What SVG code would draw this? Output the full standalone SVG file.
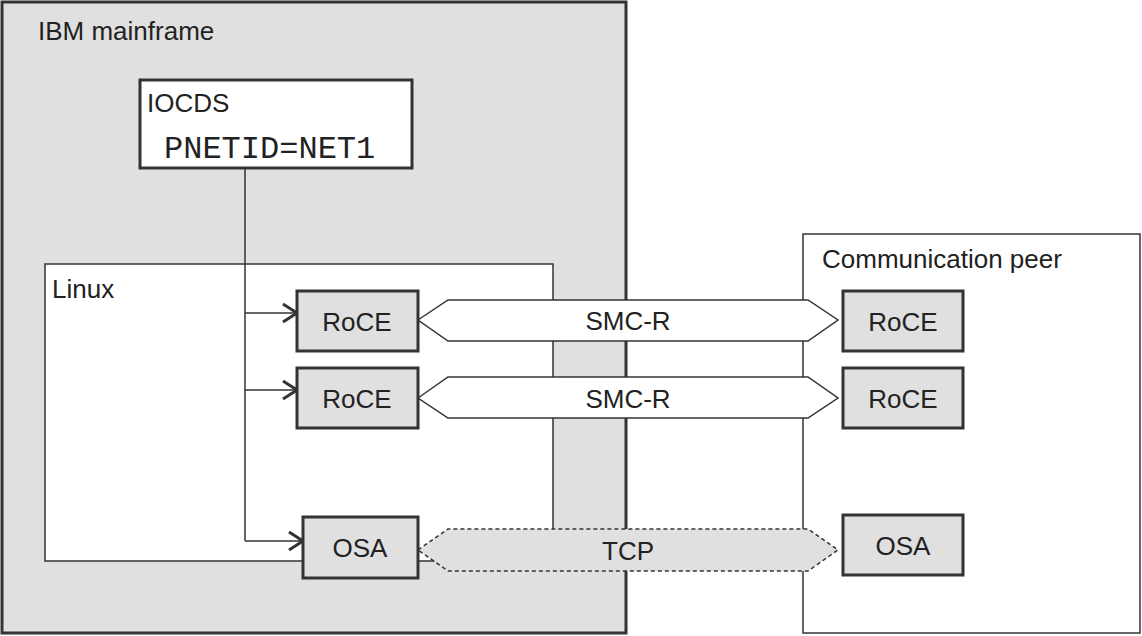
<svg xmlns="http://www.w3.org/2000/svg" width="1142" height="636" viewBox="0 0 1142 636">
<defs>
<style>
.t{font-family:"Liberation Sans",Arial,sans-serif;font-size:26px;fill:#222}
.dev{fill:#e0e0e0;stroke:#333;stroke-width:3}
.ln{fill:none;stroke:#333;stroke-width:1.5}
</style>
<marker id="ar" viewBox="0 0 18 22" refX="16" refY="11" markerWidth="18" markerHeight="22" markerUnits="userSpaceOnUse" orient="auto"><path d="M2,2 L16,11 L2,20" fill="none" stroke="#333" stroke-width="3"/></marker>
</defs>
<g id="mainframe"><rect x="2" y="2" width="624" height="631" fill="#e0e0e0" stroke="#333" stroke-width="3"/><text class="t" x="38" y="40">IBM mainframe</text></g>
<g id="peer"><rect x="803" y="234" width="337" height="399" fill="#fff" stroke="#333" stroke-width="1.5"/><text class="t" x="822" y="268">Communication peer</text></g>
<g id="linux"><rect x="45" y="264" width="508" height="297" fill="#fff" stroke="#333" stroke-width="1.5"/><text class="t" x="52" y="298">Linux</text></g>
<g id="iocds"><rect x="140" y="80" width="272" height="88" fill="#fff" stroke="#333" stroke-width="3"/><text class="t" x="147" y="112">IOCDS</text><text x="164" y="158" style="font-family:'Liberation Mono',monospace;font-size:32px;fill:#222">PNETID=NET1</text></g>
<g id="connectors">
<path class="ln" d="M245,168 V541"/>
<path class="ln" d="M245,313 H297" marker-end="url(#ar)"/>
<path class="ln" d="M245,390 H297" marker-end="url(#ar)"/>
<path class="ln" d="M245,541 H303" marker-end="url(#ar)"/>
<path d="M418,320 L448,300 H808 L838,320 L808,341 H448 Z" fill="#fff" stroke="#333" stroke-width="1.5"/>
<text class="t" x="628" y="330" text-anchor="middle">SMC-R</text>
<path d="M418,398 L448,377 H808 L838,398 L808,418 H448 Z" fill="#fff" stroke="#333" stroke-width="1.5"/>
<text class="t" x="628" y="408" text-anchor="middle">SMC-R</text>
<path d="M418,550 L448,529 H808 L838,550 L808,571 H448 Z" fill="#e0e0e0" stroke="#333" stroke-width="1.5" stroke-dasharray="4,3"/>
<text class="t" x="628" y="560" text-anchor="middle">TCP</text>
</g>
<g id="roce1"><rect class="dev" x="297" y="291" width="121" height="60"/><text class="t" x="357" y="331" text-anchor="middle">RoCE</text></g>
<g id="roce2"><rect class="dev" x="297" y="368" width="121" height="60"/><text class="t" x="357" y="408" text-anchor="middle">RoCE</text></g>
<g id="osa1"><rect class="dev" x="303" y="517" width="115" height="61"/><text class="t" x="360" y="557" text-anchor="middle">OSA</text></g>
<g id="roce3"><rect class="dev" x="843" y="291" width="120" height="60"/><text class="t" x="903" y="331" text-anchor="middle">RoCE</text></g>
<g id="roce4"><rect class="dev" x="843" y="368" width="120" height="60"/><text class="t" x="903" y="408" text-anchor="middle">RoCE</text></g>
<g id="osa2"><rect class="dev" x="843" y="515" width="120" height="60"/><text class="t" x="903" y="555" text-anchor="middle">OSA</text></g>
</svg>
